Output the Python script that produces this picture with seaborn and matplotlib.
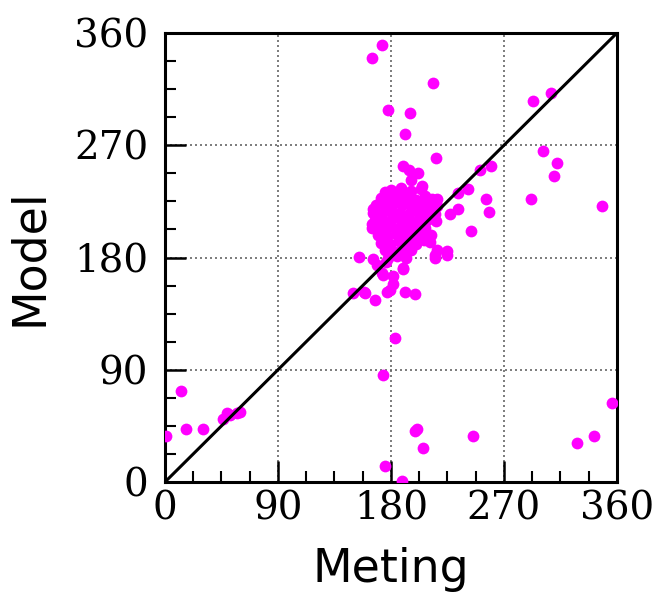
import matplotlib
matplotlib.use("Agg")
import matplotlib.pyplot as plt
import seaborn as sns
import pandas as pd
from matplotlib.ticker import MultipleLocator

# Measured (Meting) and modelled (Model) directions in degrees
meting = [
    # scattered points
    172.8, 164.9, 213.4, 177.3, 195.1, 191.4, 215.5,
    307.4, 293.3, 301.3, 312.0, 309.8, 259.9, 255.7, 257.8, 291.2, 348.0, 251.0,
    355.7, 200.4, 199.0, 205.2, 245.6, 327.9, 341.9, 175.2, 189.0,
    12.5, 16.7, 30.0, 0.5, 49.1, 57.6, 46.5, 51.8, 59.7,
    173.4, 182.9,
    189.3, 191.4, 199.4, 177.0, 181.3, 181.3, 173.4, 215.0, 224.4,
    154.8, 166.0, 149.5, 158.5, 167.3, 172.6, 179.0,
    189.8, 194.6, 201.2, 195.9, 204.4, 175.2, 189.8, 216.4, 241.6, 233.6, 233.6,
    227.0, 243.4, 166.0, 164.6, 211.0, 216.4, 224.4, 215.0, 189.8, 159.3,
    # dense cluster
    180, 188, 196, 204,
    172, 179, 186, 193, 200, 207, 213,
    168, 175, 182, 189, 196, 203, 210, 217,
    166, 173, 180, 187, 194, 201, 208, 215,
    167, 174, 181, 188, 195, 202, 209, 216,
    165, 172, 179, 186, 193, 200, 207,
    170, 177, 184, 191, 198, 205,
    172, 179, 186, 193, 200,
    175, 182, 189, 196,
    178, 185, 192,
    169, 176, 206, 212,
]
model = [
    350.4, 340.0, 320.0, 298.0, 296.0, 279.0, 260.0,
    312.0, 305.8, 265.7, 255.6, 245.2, 253.2, 227.2, 216.8, 227.2, 221.0, 250.0,
    63.1, 42.5, 41.1, 27.0, 37.1, 31.0, 37.1, 12.8, 1.0,
    73.2, 42.8, 42.8, 36.9, 55.6, 55.6, 50.3, 53.7, 55.9,
    85.8, 115.7,
    170.6, 152.0, 150.5, 152.0, 159.0, 165.0, 166.0, 182.0, 182.0,
    180.7, 178.6, 151.3, 152.6, 146.0, 167.4, 154.0,
    253.4, 250.2, 247.5, 242.2, 237.4, 232.8, 232.8, 226.7, 234.7, 218.7, 231.5,
    214.9, 201.3, 218.7, 206.9, 192.7, 186.0, 185.5, 179.4, 171.4, 151.8,
    234, 236, 233, 235,
    228, 227, 229, 228, 226, 229, 227,
    222, 221, 223, 222, 221, 223, 222, 221,
    216, 215, 217, 216, 215, 217, 216, 215,
    210, 209, 211, 210, 209, 211, 210, 209,
    204, 203, 205, 204, 203, 205, 204,
    198, 197, 199, 198, 197, 199,
    192, 191, 193, 192, 191,
    186, 185, 187, 186,
    180, 181, 180,
    174, 176, 194, 198,
]
ticks = [0, 90, 180, 270, 360]
tick_labels = ["0", "90", "180", "270", "360"]

sns.set_style("white")
plt.rcParams["font.family"] = ["DejaVu Sans"]
plt.rcParams["text.color"] = "black"
plt.rcParams["axes.labelcolor"] = "black"
plt.rcParams["xtick.color"] = "black"
plt.rcParams["ytick.color"] = "black"

fig = plt.figure(figsize=(6.55, 5.99), dpi=100)
ax = fig.add_axes([0.2519, 0.1953, 0.690, 0.7496])

df = pd.DataFrame({"Meting": meting, "Model": model})
sns.scatterplot(data=df, x="Meting", y="Model", color="#ff00ff", s=72,
                linewidth=0, ax=ax, zorder=3)
sns.lineplot(x=[0, 360], y=[0, 360], color="black", lw=2.2, ax=ax, zorder=4)

ax.set_xlim(0, 360)
ax.set_ylim(0, 360)
ax.set_xticks(ticks)
ax.set_yticks(ticks)
ax.set_xticklabels(tick_labels, family="DejaVu Serif", fontsize=28, color="black")
ax.set_yticklabels(tick_labels, family="DejaVu Serif", fontsize=28, color="black")
ax.xaxis.set_minor_locator(MultipleLocator(22.5))
ax.yaxis.set_minor_locator(MultipleLocator(22.5))
ax.tick_params(which="major", direction="in", length=15, width=1.8,
               color="black", top=False, right=False, bottom=True, left=True)
ax.tick_params(which="minor", direction="in", length=8, width=1.5,
               color="black", top=False, right=False, bottom=True, left=True)
ax.tick_params(axis="x", which="major", pad=6)
ax.tick_params(axis="y", which="major", pad=12)

ax.set_axisbelow(True)
ax.grid(True, which="major", linestyle=(0, (1.2, 1.8)), color="#666666", lw=1.2)
for sp in ax.spines.values():
    sp.set_color("black")
    sp.set_linewidth(2.2)

ax.set_xlabel("Meting", fontsize=33, labelpad=14, color="black")
ax.set_ylabel("Model", fontsize=33, labelpad=16, color="black")

fig.savefig("out.png", dpi=100)
